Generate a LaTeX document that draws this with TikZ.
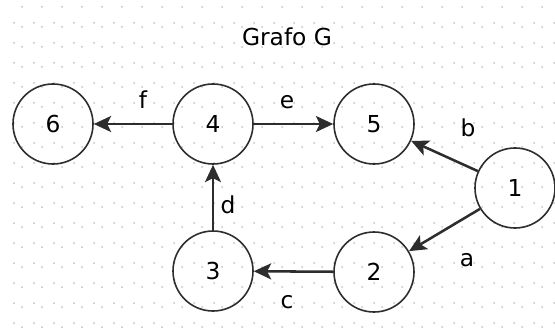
\documentclass[tikz,border=0pt]{standalone}
\usepackage{fontspec}
\setmainfont{DejaVu Sans}
\usetikzlibrary{arrows.meta}
\definecolor{hgrid}{RGB}{195,195,195}
\definecolor{hline}{RGB}{45,45,45}
\tikzset{
  vtx/.style={circle,draw=hline,line width=1.2pt,minimum size=60pt,inner sep=0pt,font=\fontsize{17.5}{20}\selectfont},
  edg/.style={draw=hline,line width=1.9pt,-{Stealth[length=13pt,width=12pt,inset=3pt]}},
  lbl/.style={inner sep=0pt,font=\fontsize{17.5}{20}\selectfont}
}

\begin{document}
\begin{tikzpicture}[x=0.75pt,y=-0.75pt]
\useasboundingbox (0,0) rectangle (555,331);
% dotted grid
\foreach \i in {0,...,27}{
  \foreach \j in {0,...,16}{
    \fill[hgrid] (14+20*\i,23+20*\j) circle (1);
    \fill[hgrid] (22+20*\i,7+20*\j) circle (1);
  }
}
\node[lbl] (title) at (287,37) {Grafo G};
\node[vtx] (v1) at (515,188) {1};
\node[vtx] (v2) at (374,272) {2};
\node[vtx] (v3) at (213,271) {3};
\node[vtx] (v4) at (213,124) {4};
\node[vtx] (v5) at (374,124) {5};
\node[vtx] (v6) at (53,124) {6};
\node[lbl] (la) at (467,260) {a};
\node[lbl] (lb) at (468,128) {b};
\node[lbl] (lc) at (287,302) {c};
\node[lbl] (ld) at (228,205) {d};
\node[lbl] (le) at (287,102) {e};
\node[lbl] (lf) at (143,100) {f};
\draw[edg] (v1) -- (v2);
\draw[edg] (v1) -- (v5);
\draw[edg] (v2) -- (v3);
\draw[edg] (v3) -- (v4);
\draw[edg] (v4) -- (v5);
\draw[edg] (v4) -- (v6);
\end{tikzpicture}
\end{document}
